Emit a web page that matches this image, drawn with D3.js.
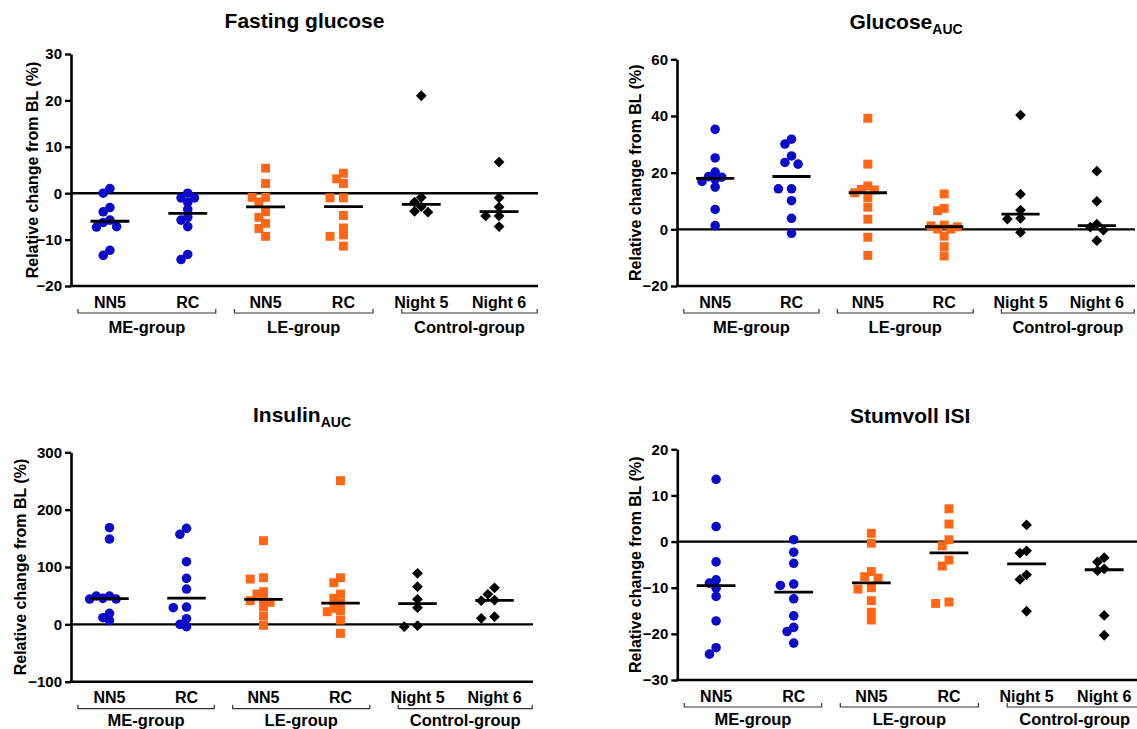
<!DOCTYPE html>
<html><head><meta charset="utf-8">
<script src="https://cdn.jsdelivr.net/npm/d3@7"></script>
<style>
body{margin:0;background:#fff}
svg{display:block}
text{font-family:"Liberation Sans",Arial,Helvetica,sans-serif;font-weight:bold;fill:#000}
</style>
</head><body>
<svg id="chart" width="1137" height="729"></svg>
<script>
// ---------- data ----------
const categories = ["NN5", "RC", "NN5", "RC", "Night 5", "Night 6"];
const groupNames = ["ME-group", "LE-group", "Control-group"];
const yLabel = "Relative change from BL (%)";

const fastingTicks = [-20, -10, 0, 10, 20, 30];
const glucoseTicks = [-20, 0, 20, 40, 60];
const insulinTicks = [-100, 0, 100, 200, 300];
const stumvollTicks = [-30, -20, -10, 0, 10, 20];

const fastingGlucose = [
  [1.0, 0, -3.1, -4.0, -5.8, -6.3, -7.2, -7.3, -12.3, -13.4],
  [0, -1.0, -1.0, -2.0, -3.5, -5.2, -5.8, -7.2, -13.2, -14.3],
  [5.4, 2.1, -0.9, -0.9, -1.9, -4.0, -5.2, -6.5, -7.6, -9.3],
  [4.3, 3.1, 2.1, -1.0, -1.0, -4.8, -7.5, -9.0, -9.3, -11.4],
  [21.0, -0.9, -1.9, -2.9, -3.9, -4.1],
  [6.7, -1.0, -3.0, -4.9, -4.9, -7.2]
];
const glucoseAUC = [
  [35.3, 25.2, 20.2, 18.6, 18.4, 17.6, 16.9, 14.9, 7.0, 1.3],
  [31.8, 30.1, 25.9, 23.6, 23.0, 14.3, 14.3, 10.1, 3.9, -1.4],
  [39.2, 23.0, 15.3, 14.1, 13.9, 12.9, 11.2, 7.8, 3.6, -2.8, -9.2],
  [12.5, 7.4, 6.6, 1.5, 1.2, 0.9, 0.1, 0.1, -2.4, -6.1, -9.4],
  [40.3, 12.4, 6.8, 3.9, 3.6, -1.1],
  [20.5, 9.9, 1.8, 0.8, -0.3, -4.0]
];
const insulinAUC = [
  [168.5, 148.8, 49.4, 49.4, 45.3, 44.1, 44.1, 19.2, 11.6, 6.5],
  [167.4, 157.0, 109.2, 80.2, 61.6, 30.2, 29.0, 9.8, 0, -4.1],
  [145.9, 81.3, 79.0, 56.9, 52.8, 43.6, 41.2, 38.4, 30.7, 14.5, -1.7],
  [250.5, 81.3, 72.6, 52.8, 45.3, 37.0, 27.9, 23.8, 22.0, 7.5, -15.7],
  [89.0, 65.6, 43.6, 29.0, -2.4, -4.1],
  [63.8, 52.3, 42.4, 41.2, 13.3, 10.5]
];
const stumvollISI = [
  [13.5, 3.25, -4.4, -8.3, -9.0, -10.1, -11.9, -17.2, -23.0, -24.4],
  [0.4, -2.3, -4.7, -9.2, -9.5, -12.4, -16.1, -18.6, -19.5, -22.0],
  [1.8, -0.35, -6.5, -7.6, -7.9, -10.0, -10.3, -12.8, -15.3, -17.0],
  [7.1, 3.8, 0.4, -0.9, -4.0, -5.3, -13.1, -13.4],
  [3.6, -2.0, -2.5, -7.2, -8.2, -15.1],
  [-3.5, -4.4, -5.9, -6.3, -16.0, -20.3]
];

// ---------- layout ----------
const panels = [
  {title: "Fasting glucose", sub: null, data: fastingGlucose, ticks: fastingTicks,
   left: 71, right: 538, top: 54, bottom: 286, ylabX: 32, titleY: 28, groupDy: 41},
  {title: "Glucose", sub: "AUC", data: glucoseAUC, ticks: glucoseTicks,
   left: 677, right: 1135, top: 59.3, bottom: 286, ylabX: 635, titleY: 29, groupDy: 41},
  {title: "Insulin", sub: "AUC", data: insulinAUC, ticks: insulinTicks,
   left: 71, right: 533, top: 452.3, bottom: 681.7, ylabX: 20, titleY: 422, groupDy: 38.5},
  {title: "Stumvoll ISI", sub: null, data: stumvollISI, ticks: stumvollTicks,
   left: 677.3, right: 1143, top: 449.3, bottom: 680, ylabX: 635, titleY: 423, groupDy: 39.5}
];
const groupSpans = [[0.09, 1.86], [2.1, 3.88], [4.25, 5.99]];
const colors = ["#0b0bc9", "#0b0bc9", "#ff6616", "#ff6616", "#000", "#000"];
const shapes = ["circle", "circle", "square", "square", "diamond", "diamond"];

const svg = d3.select("#chart");

function swarm(values, cx, y, minDist, step) {
  const placed = [];
  const sorted = values.slice().sort((a, b) => b - a);
  for (const v of sorted) {
    const py = y(v);
    for (let k = 0; k < 60; k++) {
      const off = k === 0 ? 0 : (k % 2 === 1 ? -Math.ceil(k / 2) : Math.ceil(k / 2)) * step;
      const px = cx + off;
      if (placed.every(q => Math.hypot(q.x - px, q.y - py) >= minDist)) {
        placed.push({x: px, y: py, v});
        break;
      }
    }
  }
  return placed;
}

panels.forEach(p => {
  const g = svg.append("g");
  const y = d3.scaleLinear().domain(d3.extent(p.ticks)).range([p.bottom, p.top]);
  const x = d3.scaleBand().domain(d3.range(categories.length)).range([p.left, p.right]);
  const step = x.step();
  const bw = x.bandwidth();

  // title
  const t = g.append("text").attr("x", (p.left + p.right) / 2).attr("y", p.titleY)
    .attr("text-anchor", "middle").style("font-size", "21px");
  t.append("tspan").text(p.title);
  if (p.sub) t.append("tspan").attr("dy", 5).style("font-size", "14px").text(p.sub);

  // y axis
  const ax = g.append("g").attr("transform", `translate(${p.left},0)`)
    .call(d3.axisLeft(y).tickValues(p.ticks).tickSize(6).tickPadding(3).tickSizeOuter(0));
  ax.select(".domain").attr("stroke", "#000").attr("stroke-width", 2.6);
  ax.selectAll(".tick line").attr("stroke", "#000").attr("stroke-width", 2.4);
  ax.selectAll(".tick text").style("font-size", "15px").style("font-weight", "bold")
    .style("font-family", '"Liberation Sans",Arial,sans-serif').attr("fill", "#000");

  // bottom axis line
  g.append("line").attr("x1", p.left - 1.3).attr("x2", p.right).attr("y1", p.bottom).attr("y2", p.bottom)
    .attr("stroke", "#000").attr("stroke-width", 2.6);
  // zero line
  g.append("line").attr("x1", p.left).attr("x2", p.right).attr("y1", y(0)).attr("y2", y(0))
    .attr("stroke", "#000").attr("stroke-width", 2.4);

  // y label
  g.append("text").attr("transform", `translate(${p.ylabX},${(p.top + p.bottom) / 2}) rotate(-90)`)
    .attr("text-anchor", "middle").attr("dy", "0.35em").style("font-size", "16px").text(yLabel);

  // category labels
  g.selectAll(".cat").data(categories).join("text")
    .attr("x", (d, i) => x(i) + bw / 2).attr("y", p.bottom + 16).attr("dy", "0.35em")
    .attr("text-anchor", "middle").style("font-size", "16px").text(d => d);

  // brackets and group labels
  groupSpans.forEach((s, gi) => {
    const x1 = p.left + s[0] * step, x2 = p.left + s[1] * step, by = p.bottom + 27;
    g.append("path").attr("d", `M${x1},${by - 4}V${by}H${x2}V${by - 4}`)
      .attr("fill", "none").attr("stroke", "#333").attr("stroke-width", 1.2);
    g.append("text").attr("x", (x1 + x2) / 2).attr("y", p.bottom + p.groupDy).attr("dy", "0.35em")
      .attr("text-anchor", "middle").style("font-size", "16.5px").text(groupNames[gi]);
  });

  // points
  p.data.forEach((vals, ci) => {
    const cx = x(ci) + bw / 2;
    const pts = swarm(vals, cx, y, 6.9, step * 0.086);
    const shape = shapes[ci];
    const sym = shape === "circle" ? d3.symbol(d3.symbolCircle, 72)
              : shape === "square" ? d3.symbol(d3.symbolSquare, 80)
              : d3.symbol(d3.symbolSquare, 58);
    g.selectAll(null).data(pts).join("path")
      .attr("d", sym)
      .attr("transform", d => `translate(${d.x},${d.y})` + (shape === "diamond" ? " rotate(45)" : ""))
      .attr("fill", colors[ci]);
    // median line
    const med = d3.median(vals);
    const hw = step * 0.25;
    g.append("line").attr("x1", cx - hw).attr("x2", cx + hw).attr("y1", y(med)).attr("y2", y(med))
      .attr("stroke", "#000").attr("stroke-width", 2.8);
  });
});
</script>
</body></html>
